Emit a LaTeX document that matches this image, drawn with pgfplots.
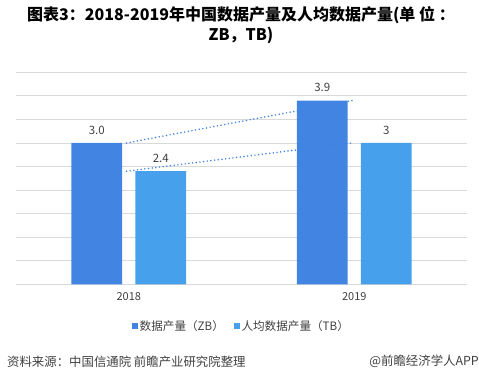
\documentclass[border=0pt]{standalone}
\usepackage{fontspec}
\setmainfont{Noto Sans CJK SC}
\usepackage{pgfplots}
\pgfplotsset{compat=1.18}
\definecolor{barA}{RGB}{65,132,226}
\definecolor{barB}{RGB}{70,160,236}
\definecolor{txt}{RGB}{64,64,64}
\definecolor{gridc}{RGB}{217,217,217}
\definecolor{dotc}{RGB}{64,130,224}
\begin{document}
\begin{tikzpicture}[x=1pt,y=1pt]
\useasboundingbox (0,0) rectangle (479,383);
\begin{axis}[
  at={(16pt,98.7pt)}, anchor=south west,
  scale only axis, width=451pt, height=212pt,
  xmin=-0.5, xmax=1.5, ymin=0, ymax=4.5,
  ybar=13.3pt, bar width=50.7pt,
  ytick={0,0.5,...,4.5}, yticklabels={},
  xtick={0,1}, xticklabels={2018,2019},
  ymajorgrids, grid style={gridc, line width=0.8pt},
  axis line style={draw=none},
  major tick length=0pt,
  tick label style={font=\fontsize{11}{13}\selectfont, text=txt},
  xticklabel style={yshift=-5pt},
  legend style={at={(0.5,-0.197)}, anchor=center, draw=none, fill=none,
    legend columns=2, font=\fontsize{11.6}{13}\selectfont, text=txt,
    /tikz/every even column/.append style={column sep=8pt}},
  legend image code/.code={\fill[#1] (0pt,-2.8pt) rectangle (5.6pt,2.8pt);},
]
\addplot[fill=barA, draw=none, point meta=explicit symbolic,
  nodes near coords, every node near coord/.append style={font=\fontsize{11.5}{13}\selectfont, text=txt, yshift=5pt}]
  coordinates {(0,3.0) [3.0] (1,3.9) [3.9]};
\addlegendentry{数据产量（ZB）}
\addplot[fill=barB, draw=none, point meta=explicit symbolic,
  nodes near coords, every node near coord/.append style={font=\fontsize{11.5}{13}\selectfont, text=txt, yshift=5pt}]
  coordinates {(0,2.4) [2.4] (1,3) [3]};
\addlegendentry{人均数据产量（TB）}
\addplot[sharp plot, forget plot, dotc, line width=1.7pt, line cap=round, dash pattern=on 0pt off 3.7pt]
  coordinates {(-0.01,3.0) (0.99,3.9)};
\addplot[sharp plot, forget plot, dotc, line width=1.7pt, line cap=round, dash pattern=on 0pt off 3.7pt]
  coordinates {(-0.01,2.4) (0.99,3.0)};
\end{axis}
\node[font=\bfseries\fontsize{16}{20}\selectfont, align=center, text=black] at (241,358)
  {图表3：2018-2019年中国数据产量及人均数据产量(单 位 ：\\ZB，TB)};
\node[anchor=west, font=\fontsize{12.4}{14}\selectfont, text=txt, inner sep=0pt] at (7,21.3)
  {资料来源：中国信通院 前瞻产业研究院整理};
\node[anchor=east, font=\fontsize{12.4}{14}\selectfont, text=txt, inner sep=0pt] at (479,21.3)
  {@前瞻经济学人APP};
\end{tikzpicture}
\end{document}
